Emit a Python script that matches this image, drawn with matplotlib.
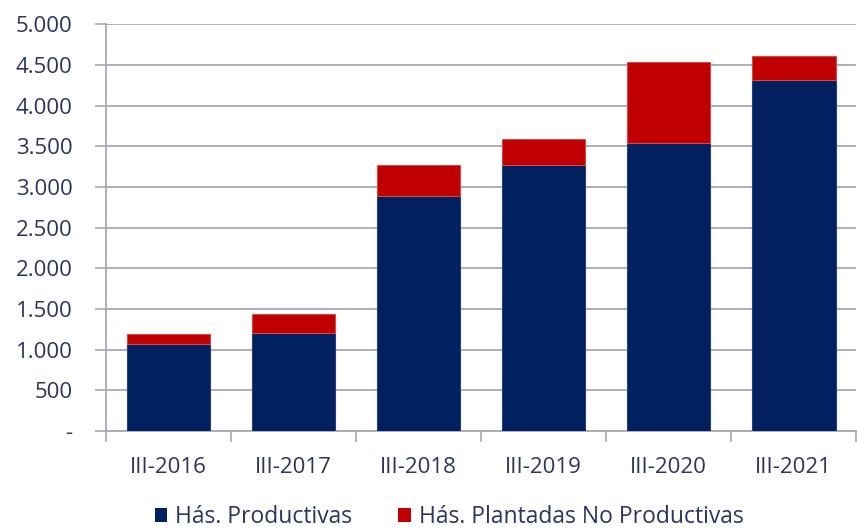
import matplotlib
matplotlib.use("Agg")
import matplotlib.pyplot as plt
from matplotlib.ticker import FuncFormatter, FixedLocator
from matplotlib.patches import Patch

categories = ["III-2016", "III-2017", "III-2018", "III-2019", "III-2020", "III-2021"]
productivas = [1075, 1210, 2884, 3265, 3543, 4318]
totales = [1190, 1436, 3269, 3585, 4532, 4606]
no_productivas = [t - p for t, p in zip(totales, productivas)]

navy = "#002060"
red = "#C00000"
grid_c = "#A7A7B9"
text_c = "#2B3560"

plt.rcParams['font.family'] = ['Open Sans', 'DejaVu Sans']

fig = plt.figure(figsize=(8.57, 5.31), dpi=100)
ax = fig.add_axes([0.1237, 0.1883, 0.8753, 0.7659])

x = list(range(len(categories)))
ax.bar(x, productivas, width=0.67, color=navy, edgecolor="#2A3F78", linewidth=0.8, zorder=3,
       label="Hás. Productivas")
ax.bar(x, no_productivas, bottom=productivas, width=0.67, color=red, edgecolor="#D24A4A",
       linewidth=0.8, zorder=3, label="Hás. Plantadas No Productivas")

ax.set_xlim(-0.5, len(categories) - 0.5)
ax.set_ylim(0, 5000)
ax.set_yticks(range(0, 5001, 500))

def fmt(v, pos):
    if v == 0:
        return "-"
    return f"{int(v):,}".replace(",", ".")
ax.yaxis.set_major_formatter(FuncFormatter(fmt))

ax.set_xticks(x)
ax.set_xticklabels(categories)
ax.xaxis.set_minor_locator(FixedLocator([i - 0.5 for i in range(len(categories) + 1)]))
ax.tick_params(axis='x', which='major', length=0, pad=19, labelsize=16, labelcolor=text_c)
ax.tick_params(axis='x', which='minor', length=8, width=1.2, color=grid_c, direction='out')
ax.tick_params(axis='y', which='major', length=8, width=1.2, color=grid_c, direction='out',
               pad=16, labelsize=16, labelcolor=text_c)

ax.grid(axis='y', color=grid_c, linewidth=1.3, zorder=0)
for s in ["top", "right"]:
    ax.spines[s].set_visible(False)
for s in ["left", "bottom"]:
    ax.spines[s].set_color(grid_c)
    ax.spines[s].set_linewidth(1.3)

handles = [Patch(facecolor=navy, label="Hás. Productivas"),
           Patch(facecolor=red, label="Hás. Plantadas No Productivas")]
leg = fig.legend(handles=handles, loc='center', bbox_to_anchor=(0.524, 0.026), ncol=2,
                 frameon=False, fontsize=16.5, handlelength=0.55, handleheight=0.6,
                 handletextpad=0.35, columnspacing=2.0, labelcolor=text_c,
                 borderpad=0.0)

fig.savefig("out.png", dpi=100)
